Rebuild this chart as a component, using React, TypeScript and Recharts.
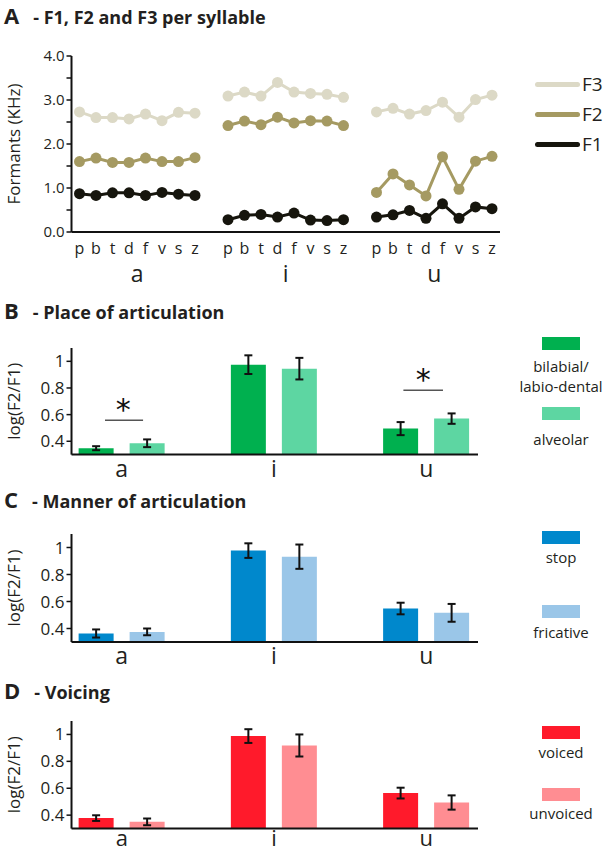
import React from 'react';
import {
  LineChart,
  Line,
  BarChart,
  Bar,
  ErrorBar,
  XAxis,
  YAxis,
  ReferenceLine,
  ReferenceDot,
} from 'recharts';

const FONT = '"Open Sans", "Noto Sans", sans-serif';
const TITLE_FONT = '"Liberation Sans Narrow", "Open Sans", sans-serif';
const INK = '#231f20';

const vowels = ['a', 'i', 'u'];
const consonants = ['p', 'b', 't', 'd', 'f', 'v', 's', 'z'];

// formants in kHz, one value per consonant p b t d f v s z
const f1A = [0.87, 0.83, 0.89, 0.89, 0.83, 0.9, 0.86, 0.83];
const f1I = [0.28, 0.38, 0.4, 0.34, 0.43, 0.27, 0.26, 0.28];
const f1U = [0.34, 0.39, 0.49, 0.31, 0.64, 0.31, 0.57, 0.53];
const f2A = [1.6, 1.68, 1.58, 1.58, 1.68, 1.6, 1.6, 1.69];
const f2I = [2.42, 2.52, 2.44, 2.61, 2.48, 2.53, 2.52, 2.42];
const f2U = [0.9, 1.32, 1.07, 0.82, 1.71, 0.97, 1.61, 1.72];
const f3A = [2.73, 2.6, 2.6, 2.57, 2.68, 2.53, 2.72, 2.7];
const f3I = [3.09, 3.18, 3.09, 3.4, 3.18, 3.15, 3.13, 3.06];
const f3U = [2.73, 2.81, 2.68, 2.76, 2.95, 2.61, 3.01, 3.11];
const formantTicks = [0, 0.5, 1, 1.5, 2, 2.5, 3, 3.5, 4];

// log(F2/F1) means and error bars, per vowel a i u
const placeBilabial = [0.348, 0.975, 0.495];
const placeBilabialErr = [0.015, 0.07, 0.049];
const placeAlveolar = [0.385, 0.945, 0.57];
const placeAlveolarErr = [0.029, 0.081, 0.039];
const mannerStop = [0.363, 0.977, 0.548];
const mannerStopErr = [0.03, 0.054, 0.043];
const mannerFricative = [0.375, 0.932, 0.516];
const mannerFricativeErr = [0.025, 0.09, 0.066];
const voicingVoiced = [0.378, 0.988, 0.564];
const voicingVoicedErr = [0.021, 0.051, 0.04];
const voicingUnvoiced = [0.35, 0.918, 0.494];
const voicingUnvoicedErr = [0.025, 0.082, 0.053];
const ratioTicks = [0.4, 0.6, 0.8, 1];

const F1_COLOR = '#16150d';
const F2_COLOR = '#a59a62';
const F3_COLOR = '#dcd9c6';

const f1ByVowel = [f1A, f1I, f1U];
const f2ByVowel = [f2A, f2I, f2U];
const f3ByVowel = [f3A, f3I, f3U];

// 8 consonant slots per vowel, one empty slot between vowels
const formantRows: any[] = [];
vowels.forEach((v, vi) => {
  if (vi > 0) formantRows.push({ slot: 'gap' + vi, label: '', group: '', F1: null, F2: null, F3: null });
  consonants.forEach((c, ci) => {
    formantRows.push({
      slot: v + '-' + c,
      label: c,
      group: ci === 3 ? v : '',
      F1: f1ByVowel[vi][ci],
      F2: f2ByVowel[vi][ci],
      F3: f3ByVowel[vi][ci],
    });
  });
});

const ratioRows = (s1: number[], e1: number[], s2: number[], e2: number[]) =>
  vowels.map((v, i) => ({ pos: i, vowel: v, s1: s1[i], e1: e1[i], s2: s2[i], e2: e2[i] }));

const FormantTick = (props: any) => {
  const { x, y, payload } = props;
  const row = formantRows.find((r) => r.slot === payload.value);
  if (!row) return null;
  return (
    <g>
      <text x={x} y={y + 16} textAnchor="middle" dominantBaseline="central" fontFamily={FONT} fontSize={16} fill={INK}>
        {row.label}
      </text>
      {row.group && (
        <text x={x + 8.25} y={y + 41} textAnchor="middle" dominantBaseline="central" fontFamily={FONT} fontSize={23} fill={INK}>
          {row.group}
        </text>
      )}
    </g>
  );
};

const VowelTick = (props: any) => {
  const { x, y, payload, dy, size } = props;
  return (
    <text x={x} y={y + (dy ?? 13)} textAnchor="middle" dominantBaseline="central" fontFamily={FONT} fontSize={size ?? 23} fill={INK}>
      {vowels[payload.value]}
    </text>
  );
};

function Title({ top, letter, text }: { top: number; letter: string; text: string }) {
  return (
    <div style={{ position: 'absolute', left: 4, top, height: 30, lineHeight: '30px', whiteSpace: 'nowrap', fontFamily: TITLE_FONT, fontWeight: 'bold', color: INK }}>
      <span style={{ fontFamily: FONT, fontSize: 22, marginRight: 14 }}>{letter}</span>
      <span style={{ fontSize: 18 }}>{text}</span>
    </div>
  );
}

function SwatchLegend({ items }: { items: { color: string; lines: string[]; swatchTop: number; textTop: number }[] }) {
  return (
    <>
      {items.map((it) => (
        <React.Fragment key={it.lines.join('')}>
          <div style={{ position: 'absolute', left: 542, top: it.swatchTop, width: 38, height: 13, background: it.color }} />
          <div style={{ position: 'absolute', left: 518, width: 86, top: it.textTop, textAlign: 'center', fontFamily: FONT, fontSize: 15, lineHeight: '20px', color: INK, whiteSpace: 'nowrap' }}>
            {it.lines.map((l) => (
              <div key={l}>{l}</div>
            ))}
          </div>
        </React.Fragment>
      ))}
    </>
  );
}

const formantSeries = [
  { key: 'F3', color: F3_COLOR, top: 73 },
  { key: 'F2', color: F2_COLOR, top: 103 },
  { key: 'F1', color: F1_COLOR, top: 133 },
];

function FormantPanel() {
  return (
    <>
      <Title top={0} letter="A" text="- F1, F2 and F3 per syllable" />
      <div style={{ position: 'absolute', left: 0, top: 40 }}>
        <LineChart width={606} height={254} data={formantRows} margin={{ top: 16, right: 106, bottom: 0, left: 0 }}>
          <XAxis
            dataKey="slot"
            interval={0}
            padding={{ left: 8, right: 8 }}
            tickLine={false}
            tickSize={0}
            tickMargin={0}
            height={62}
            axisLine={{ stroke: '#111', strokeWidth: 2 }}
            tick={<FormantTick />}
          />
          <YAxis
            domain={[0, 4]}
            ticks={formantTicks}
            interval={0}
            tickFormatter={(v: number) => (v % 1 === 0 ? v.toFixed(1) : '')}
            width={71.5}
            tickSize={5}
            axisLine={{ stroke: '#111', strokeWidth: 2 }}
            tickLine={{ stroke: '#111', strokeWidth: 1.5 }}
            tick={{ fontFamily: FONT, fontSize: 15, fill: INK }}
            label={{ value: 'Formants (KHz)', angle: -90, position: 'insideLeft', offset: 14, style: { textAnchor: 'middle', fontFamily: FONT, fontSize: 17, fill: INK } }}
          />
          {formantSeries.map((s) => (
            <Line
              key={s.key}
              dataKey={s.key}
              type="linear"
              stroke={s.color}
              strokeWidth={3}
              dot={{ r: 5.5, fill: s.color, stroke: s.color, strokeWidth: 0 }}
              activeDot={false}
              isAnimationActive={false}
            />
          ))}
        </LineChart>
      </div>
      {formantSeries.map((s) => (
        <div key={s.key} style={{ position: 'absolute', left: 535, top: s.top, height: 22, display: 'flex', alignItems: 'center' }}>
          <div style={{ width: 45, height: 5, borderRadius: 3, background: s.color }} />
          <span style={{ marginLeft: 2, fontFamily: FONT, fontSize: 19, color: INK, lineHeight: '22px' }}>{s.key}</span>
        </div>
      ))}
    </>
  );
}

function RatioPanel(props: {
  titleTop: number;
  letter: string;
  title: string;
  plotTop: number;
  plotBottom: number;
  tickDy?: number;
  tickSize?: number;
  rows: any[];
  c1: string;
  c2: string;
  legend: { color: string; lines: string[]; swatchTop: number; textTop: number }[];
  children?: React.ReactNode;
}) {
  const { titleTop, letter, title, plotTop, plotBottom, tickDy, tickSize, rows, c1, c2, legend, children } = props;
  const marginTop = 18;
  const axisHeight = Math.min(32, 852 - plotBottom);
  const height = plotBottom - plotTop + marginTop + axisHeight;
  return (
    <>
      <div style={{ position: 'absolute', left: 0, top: plotTop - marginTop }}>
        <BarChart width={606} height={height} data={rows} margin={{ top: marginTop, right: 128, bottom: 0, left: 0 }} barGap={16}>
          <XAxis
            type="number"
            dataKey="pos"
            domain={[-0.33, 2.34]}
            ticks={[0, 1, 2]}
            interval={0}
            allowDataOverflow
            tickLine={false}
            tickSize={0}
            tickMargin={0}
            height={axisHeight}
            axisLine={{ stroke: '#111', strokeWidth: 2 }}
            tick={<VowelTick dy={tickDy} size={tickSize} />}
          />
          <YAxis
            domain={[0.3, 1.1]}
            allowDataOverflow
            ticks={ratioTicks}
            interval={0}
            tickFormatter={(v: number) => (v === 1 ? '1' : v.toFixed(1))}
            width={71.5}
            tickSize={5}
            axisLine={{ stroke: '#111', strokeWidth: 2 }}
            tickLine={{ stroke: '#111', strokeWidth: 1.5 }}
            tick={{ fontFamily: FONT, fontSize: 17, fill: INK }}
            label={{ value: 'log(F2/F1)', angle: -90, position: 'insideLeft', offset: 14, style: { textAnchor: 'middle', fontFamily: FONT, fontSize: 17, fill: INK } }}
          />
          <Bar dataKey="s1" fill={c1} barSize={35} isAnimationActive={false}>
            <ErrorBar dataKey="e1" direction="y" width={4} strokeWidth={2} stroke="#111" />
          </Bar>
          <Bar dataKey="s2" fill={c2} barSize={35} isAnimationActive={false}>
            <ErrorBar dataKey="e2" direction="y" width={4} strokeWidth={2} stroke="#111" />
          </Bar>
          {children}
        </BarChart>
      </div>
      <Title top={titleTop} letter={letter} text={title} />
      <SwatchLegend items={legend} />
    </>
  );
}

const starLabel = { value: '*', position: 'center' as const, fontFamily: '"DejaVu Sans", sans-serif', fontSize: 30, fill: '#111' };

export default function App() {
  return (
    <div style={{ position: 'absolute', left: 0, top: 0, width: 606, height: 852, background: '#fff', overflow: 'hidden' }}>
      <FormantPanel />

      <RatioPanel
        titleTop={295}
        letter="B"
        title="- Place of articulation"
        plotTop={347.7}
        plotBottom={454.3}
        rows={ratioRows(placeBilabial, placeBilabialErr, placeAlveolar, placeAlveolarErr)}
        c1="#00b04f"
        c2="#5dd6a2"
        legend={[
          { color: '#00b04f', lines: ['bilabial/', 'labio-dental'], swatchTop: 337, textTop: 356 },
          { color: '#5dd6a2', lines: ['alveolar'], swatchTop: 407, textTop: 429 },
        ]}
      >
        <ReferenceLine segment={[{ x: -0.11, y: 0.557 }, { x: 0.14, y: 0.557 }]} stroke="#555" strokeWidth={1.5} />
        <ReferenceLine segment={[{ x: 1.85, y: 0.782 }, { x: 2.11, y: 0.782 }]} stroke="#555" strokeWidth={1.5} />
        <ReferenceDot x={0.01} y={0.64} r={0} fill="none" stroke="none" label={starLabel} />
        <ReferenceDot x={1.98} y={0.865} r={0} fill="none" stroke="none" label={starLabel} />
      </RatioPanel>

      <RatioPanel
        titleTop={484}
        letter="C"
        title="- Manner of articulation"
        plotTop={533.8}
        plotBottom={641.8}
        rows={ratioRows(mannerStop, mannerStopErr, mannerFricative, mannerFricativeErr)}
        c1="#0088cc"
        c2="#9ac6e8"
        legend={[
          { color: '#0088cc', lines: ['stop'], swatchTop: 531, textTop: 547 },
          { color: '#9ac6e8', lines: ['fricative'], swatchTop: 605, textTop: 622 },
        ]}
      />

      <RatioPanel
        titleTop={675}
        letter="D"
        title="- Voicing"
        plotTop={720.9}
        plotBottom={828.5}
        tickDy={8.5}
        tickSize={22}
        rows={ratioRows(voicingVoiced, voicingVoicedErr, voicingUnvoiced, voicingUnvoicedErr)}
        c1="#ff1a2b"
        c2="#ff8d92"
        legend={[
          { color: '#ff1a2b', lines: ['voiced'], swatchTop: 726, textTop: 742 },
          { color: '#ff8d92', lines: ['unvoiced'], swatchTop: 788, textTop: 803 },
        ]}
      />
    </div>
  );
}
